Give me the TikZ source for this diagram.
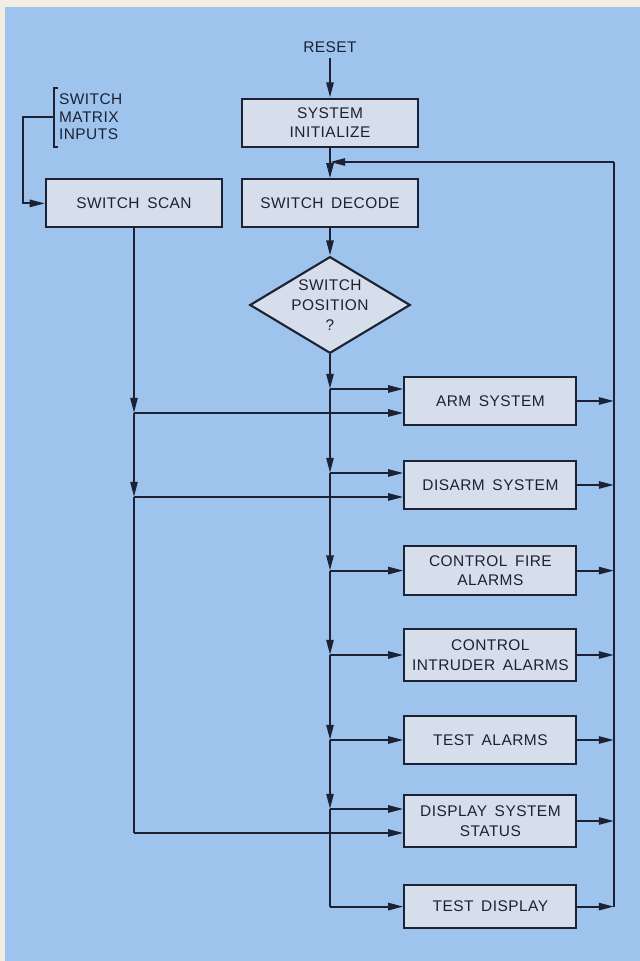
\documentclass[tikz,border=0pt]{standalone}
\usepackage{fontspec}
\setmainfont{Liberation Sans}[LetterSpace=3, WordSpace=1.6]
\usetikzlibrary{arrows.meta, shapes.geometric}

\definecolor{paper}{RGB}{242,238,228}
\definecolor{sheet}{RGB}{158,196,238}
\definecolor{boxfill}{RGB}{214,222,236}
\definecolor{ink}{RGB}{28,34,51}

\begin{document}
\begin{tikzpicture}[>={Triangle[length=3.8mm,width=1.8mm]}, line width=1.5pt, color=ink,
  proc/.style={draw, fill=boxfill, minimum width=4.3cm, minimum height=1.2cm,
    align=center, inner sep=1pt, font=\fontsize{11}{14}\selectfont},
  wide/.style={proc, minimum width=4.4cm, minimum height=1.2cm}]
  % fondo
  \fill[paper] (0,0) rectangle (16,24.025);
  \fill[sheet] (0.125,0) rectangle (16,23.85);
  \useasboundingbox (0,0) rectangle (16,24.025);

  % columna superior
  \node[font=\fontsize{11}{14}\selectfont] (reset) at (8.25,22.85) {RESET};
  \node[wide] (init) at (8.25,20.96) {SYSTEM\\INITIALIZE};
  \node[wide] (decode) at (8.25,18.94) {SWITCH DECODE};
  \node[wide] (scan) at (3.35,18.94) {SWITCH SCAN};
  \node[draw, fill=boxfill, diamond, aspect=1.66, inner sep=0pt, align=center,
    font=\fontsize{11}{14}\selectfont] (dia) at (8.25,16.4) {SWITCH\\POSITION\\?};

  % tareas
  \node[proc] (arm) at (12.26,14.0) {ARM SYSTEM};
  \node[proc] (disarm) at (12.26,11.9) {DISARM SYSTEM};
  \node[proc, minimum height=1.225cm] (fire) at (12.26,9.76) {CONTROL FIRE\\ALARMS};
  \node[proc, minimum height=1.3cm] (intr) at (12.26,7.65) {CONTROL\\INTRUDER ALARMS};
  \node[proc] (talm) at (12.26,5.525) {TEST ALARMS};
  \node[proc, minimum height=1.3cm] (dss) at (12.26,3.5) {DISPLAY SYSTEM\\STATUS};
  \node[proc, minimum height=1.075cm] (tdsp) at (12.26,1.36) {TEST DISPLAY};

  % entradas de la matriz
  \node[anchor=west, align=left, inner sep=0pt, font=\fontsize{11}{12.5}\selectfont]
    (matrix) at (1.45,21.1) {SWITCH\\MATRIX\\INPUTS};
  \coordinate (brk) at (1.35,21.1);
  \draw (1.45,21.825) -- (1.35,21.825) -- (1.35,20.35) -- (1.45,20.35);
  \draw[->] (brk) -- (0.575,21.1) |- (scan.west);

  \draw[->] (reset) -- (init);
  \draw[->] (init) -- (decode);
  \draw[->] (decode) -- (dia);

  % puntos de entrada
  \coordinate (armA) at ([yshift=3mm]arm.west);
  \coordinate (armB) at ([yshift=-3mm]arm.west);
  \coordinate (disA) at ([yshift=3mm]disarm.west);
  \coordinate (disB) at ([yshift=-3mm]disarm.west);
  \coordinate (dssA) at ([yshift=3mm]dss.west);
  \coordinate (dssB) at ([yshift=-3mm]dss.west);

  % bus principal
  \draw[->] (dia.south) -- (dia |- armA);
  \draw[->] (dia |- armA) -- (dia |- disA);
  \draw[->] (dia |- disA) -- (dia |- fire);
  \draw[->] (dia |- fire) -- (dia |- intr);
  \draw[->] (dia |- intr) -- (dia |- talm);
  \draw[->] (dia |- talm) -- (dia |- dssA);
  \draw (dia |- dssA) -- (dia |- tdsp);
  \draw[->] (dia |- armA) -- (armA);
  \draw[->] (dia |- disA) -- (disA);
  \draw[->] (dia |- fire) -- (fire);
  \draw[->] (dia |- intr) -- (intr);
  \draw[->] (dia |- talm) -- (talm);
  \draw[->] (dia |- dssA) -- (dssA);
  \draw[->] (dia |- tdsp) -- (tdsp);

  % bus del barrido
  \draw[->] (scan.south) -- (scan |- armB);
  \draw[->] (scan |- armB) -- (scan |- disB);
  \draw (scan |- disB) -- (scan |- dssB);
  \draw[->] (scan |- armB) -- (armB);
  \draw[->] (scan |- disB) -- (disB);
  \draw[->] (scan |- dssB) -- (dssB);

  % retorno
  \coordinate (fb) at (15.35,19.975);
  \draw[->] (arm) -- (arm -| fb);
  \draw[->] (disarm) -- (disarm -| fb);
  \draw[->] (fire) -- (fire -| fb);
  \draw[->] (intr) -- (intr -| fb);
  \draw[->] (talm) -- (talm -| fb);
  \draw[->] (dss) -- (dss -| fb);
  \draw[->] (tdsp) -- (tdsp -| fb);
  \draw (tdsp -| fb) -- (fb);
  \draw[->] (fb) -- (init |- fb);
\end{tikzpicture}
\end{document}
